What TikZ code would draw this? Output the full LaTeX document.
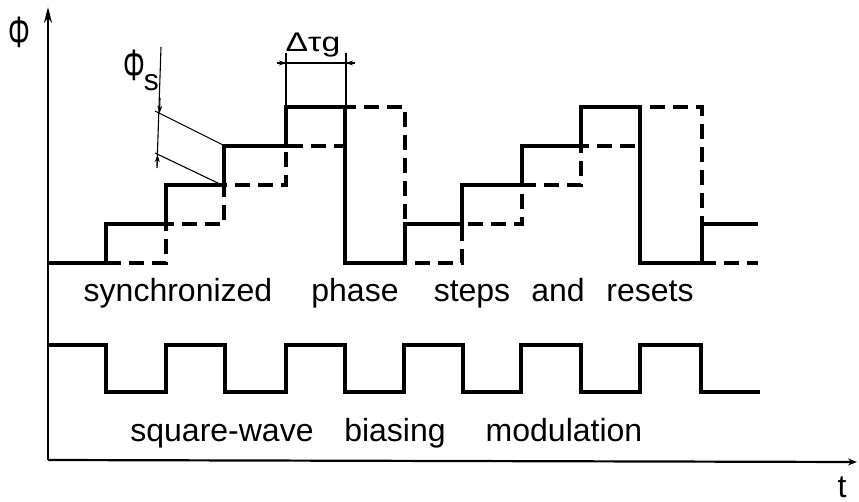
\documentclass[tikz,border=0pt]{standalone}
\usepackage{fontspec}
\setmainfont{Liberation Sans}
\usetikzlibrary{arrows.meta}
\begin{document}
\begin{tikzpicture}[x=1pt,y=-1pt,
  trace/.style={line width=3.2pt, line join=miter},
  dtrace/.style={line width=3.2pt, dash pattern=on 15pt off 8pt},
  axis/.style={line width=2.2pt},
  dim/.style={line width=1.1pt},
  lbl/.style={font=\fontsize{32}{38}\selectfont, inner sep=0pt, anchor=base},
  sym/.style={font=\fontsize{44}{50}\selectfont, inner sep=0pt}]
\fill[white] (0,0) rectangle (859,502);
\useasboundingbox (0,0) rectangle (859,502);
% axes
\coordinate (O) at (48,460);
\coordinate (Ytop) at (48,7);
\coordinate (Xend) at (857,462);
\draw[axis,-{Stealth[length=16pt,width=8pt]}] (O) -- (Ytop);
\draw[axis,-{Stealth[length=9pt,width=7pt]}] (O) -- (Xend);
\node[sym] (phi) at (19,32) {\scalebox{0.62}[1]{Φ}};
\node[lbl] (t) at (842,497) {t};
% dashed (delayed) phase trace
\draw[dtrace] (106,263) -- (166,263) -- (166,224) -- (224,224) -- (224,185)
  -- (286,185) -- (286,146) -- (345,146) -- (345,107) -- (405,107) -- (405,263)
  -- (462,263) -- (462,224) -- (522,224) -- (522,185) -- (581,185) -- (581,146)
  -- (640,146) -- (640,107) -- (702,107) -- (702,263) -- (758,263);
% solid phase trace
\draw[trace] (48,263) -- (106,263) -- (106,224) -- (166,224) -- (166,185)
  -- (224,185) -- (224,146) -- (286,146) -- (286,107) -- (345,107) -- (345,263)
  -- (405,263) -- (405,224) -- (462,224) -- (462,185) -- (522,185) -- (522,146)
  -- (581,146) -- (581,107) -- (640,107) -- (640,263) -- (702,263) -- (702,224)
  -- (758,224);
% square wave
\draw[trace] (48,345) -- (106,345) -- (106,392) -- (166,392) -- (166,345)
  -- (225,345) -- (225,392) -- (286,392) -- (286,345) -- (345,345) -- (345,392)
  -- (404,392) -- (404,345) -- (463,345) -- (463,392) -- (521,392) -- (521,345)
  -- (581,345) -- (581,392) -- (640,392) -- (640,345) -- (701,345) -- (701,392)
  -- (760,392);
% labels
\node[lbl] (w1) at (178,302) {synchronized};
\node[lbl] (w2) at (355,302) {phase};
\node[lbl] (w3) at (472,302) {steps};
\node[lbl] (w4) at (558,302) {and};
\node[lbl] (w5) at (650,302) {resets};
\node[lbl] (v1) at (222,441) {square-wave};
\node[lbl] (v2) at (395,441) {biasing};
\node[lbl] (v3) at (564,441) {modulation};
% delta tau g dimension
\node[font=\fontsize{27}{30}\selectfont, inner sep=0pt, anchor=base] (dtg) at (313,52) {\scalebox{1.25}[1]{Δτg}};
\draw[dim] (286,53) -- (286,107);
\draw[dim] (346,53) -- (346,107);
\draw[dim] (277,63) -- (355,63);
\draw[dim,-{Stealth[length=7pt,width=5pt]}] (277,63) -- (286,63);
\draw[dim,-{Stealth[length=7pt,width=5pt]}] (355,63) -- (346,63);
% phi_s dimension
\node[inner sep=0pt] (phis) at (141,70) {\fontsize{44}{50}\selectfont \scalebox{0.62}[1]{Φ}\kern-1pt\raisebox{-10pt}{\fontsize{30}{34}\selectfont s}};
\draw[dim] (155,111) -- (225,146);
\draw[dim] (155,153) -- (222,185);
\draw[dim] (161,47) -- (157,166);
\draw[dim,-{Stealth[length=7pt,width=5pt]}] (160,98) -- (159.6,113);
\draw[dim,-{Stealth[length=7pt,width=5pt]}] (157,168) -- (157.6,155);
\end{tikzpicture}
\end{document}
